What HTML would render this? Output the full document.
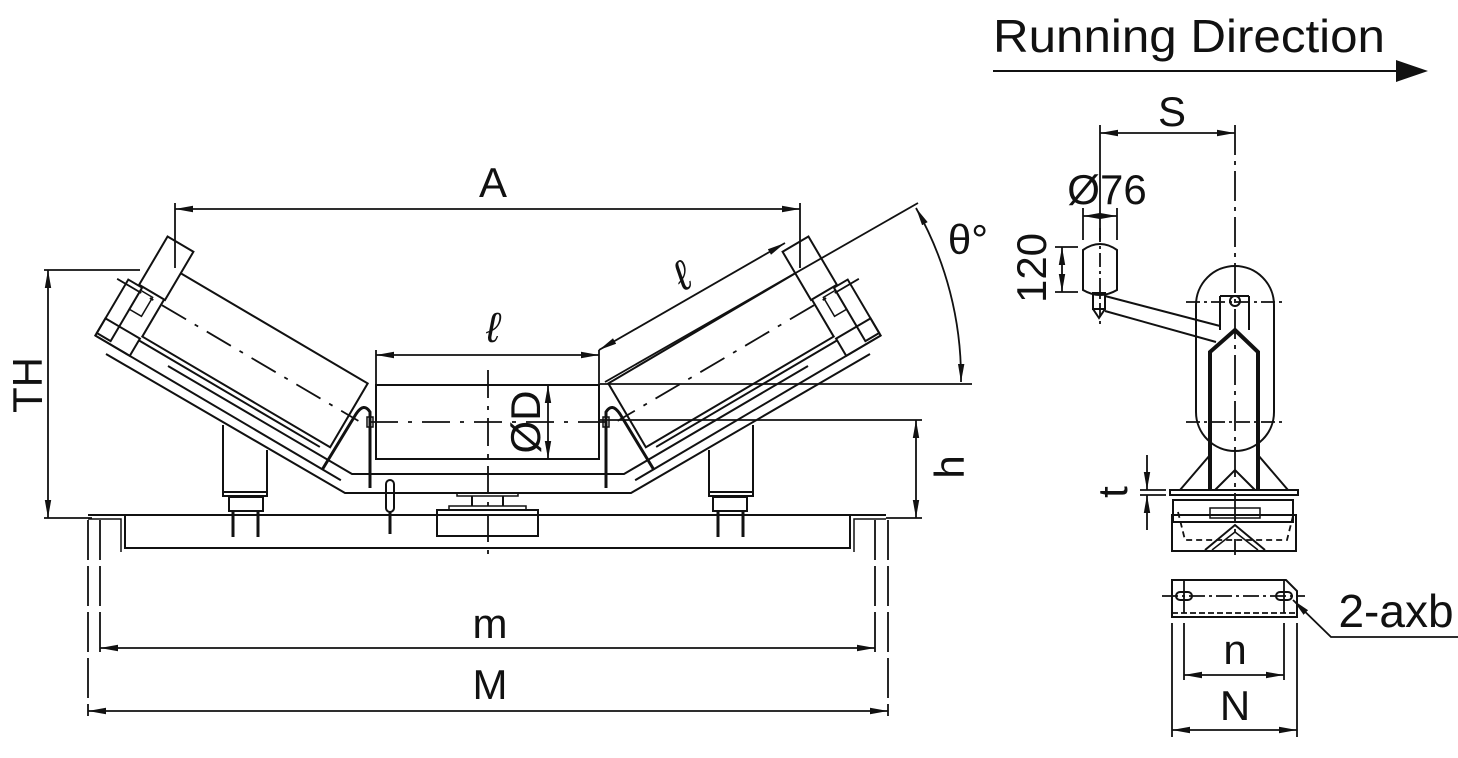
<!DOCTYPE html>
<html><head><meta charset="utf-8"><style>
html,body{margin:0;padding:0;background:#fff;}
svg{display:block;}
text{font-family:"Liberation Sans",sans-serif;fill:#111;}
</style></head><body>
<svg width="1458" height="758" viewBox="0 0 1458 758" xmlns="http://www.w3.org/2000/svg">
<defs>
<marker id="ar" viewBox="0 0 10 10" refX="10" refY="5" markerWidth="18" markerHeight="8" markerUnits="userSpaceOnUse" orient="auto-start-reverse" preserveAspectRatio="none"><path d="M0,1 L10,5 L0,9 z" fill="#111"/></marker>
<g id="side">
  <g transform="translate(255,360) rotate(30.5)">
    <rect x="-109" y="-37" width="218" height="74" fill="none" stroke="#111" stroke-width="2"/>
    <rect x="-138" y="-62" width="30" height="56" fill="#fff" stroke="#111" stroke-width="2"/>
    <rect x="-150" y="-5" width="16" height="62" fill="none" stroke="#111" stroke-width="2"/>
    <rect x="-134" y="-2" width="14" height="22" fill="none" stroke="#111" stroke-width="1.5"/>
    <rect x="-150" y="40" width="40" height="20" fill="none" stroke="#111" stroke-width="2"/>
    <line x1="-150" y1="60" x2="135" y2="60" stroke="#111" stroke-width="2"/>
    <line x1="-110" y1="42" x2="100" y2="42" stroke="#111" stroke-width="2"/>
    <line x1="-160" y1="0" x2="120" y2="0" stroke="#111" stroke-width="1.8" stroke-dasharray="28,10,4,10"/>
  </g>
  <path d="M106,354 L345,493 L488,493" fill="none" stroke="#111" stroke-width="2"/>
  <path d="M168,366 L352,474 L488,474" fill="none" stroke="#111" stroke-width="2"/>
  <path d="M322,470 L356,414 Q364,402 370,412 L370,488" fill="none" stroke="#111" stroke-width="3"/>
  <rect x="367" y="417" width="6" height="10" fill="none" stroke="#111" stroke-width="1.5"/>
  <path d="M223,425 L223,496 L267,496 L267,450" fill="none" stroke="#111" stroke-width="2"/>
  <line x1="223" y1="492" x2="267" y2="492" stroke="#111" stroke-width="2"/>
  <rect x="229" y="497" width="34" height="14" fill="none" stroke="#111" stroke-width="2"/>
  <line x1="233" y1="511" x2="233" y2="537" stroke="#111" stroke-width="3"/>
  <line x1="258" y1="511" x2="258" y2="537" stroke="#111" stroke-width="3"/>
</g>
</defs>

<use href="#side"/>
<use href="#side" transform="translate(976,0) scale(-1,1)"/>
<rect x="386" y="480" width="8" height="32" rx="4" fill="none" stroke="#111" stroke-width="2"/>
<line x1="390" y1="512" x2="390" y2="534" stroke="#111" stroke-width="3"/>

<rect x="376" y="385" width="223" height="74" fill="none" stroke="#111" stroke-width="2"/>
<line x1="370" y1="422" x2="610" y2="422" stroke="#111" stroke-width="1.8" stroke-dasharray="28,10,4,10"/>
<line x1="488" y1="370" x2="488" y2="556" stroke="#111" stroke-width="1.8" stroke-dasharray="28,8,4,8"/>
<rect x="457" y="493" width="61" height="3" fill="none" stroke="#111" stroke-width="1.5"/>
<line x1="472" y1="496" x2="472" y2="506" stroke="#111" stroke-width="2"/>
<line x1="503" y1="496" x2="503" y2="506" stroke="#111" stroke-width="2"/>
<rect x="449" y="506" width="77" height="4" fill="none" stroke="#111" stroke-width="1.5"/>
<rect x="437" y="510" width="101" height="26" fill="none" stroke="#111" stroke-width="2"/>
<path d="M88,515 L125,515 L125,548 L850,548 L850,515 L886,515" fill="none" stroke="#111" stroke-width="2"/>
<line x1="125" y1="515" x2="850" y2="515" stroke="#111" stroke-width="2"/>
<path d="M88,519 L121,519 L121,552" fill="none" stroke="#111" stroke-width="1.5"/>
<path d="M886,519 L854,519 L854,552" fill="none" stroke="#111" stroke-width="1.5"/>

<g stroke="#111" stroke-width="1.8" fill="none">
<line x1="175" y1="203" x2="175" y2="268"/>
<line x1="800" y1="203" x2="800" y2="268"/>
<line x1="175" y1="209" x2="800" y2="209" marker-start="url(#ar)" marker-end="url(#ar)"/>
<line x1="44" y1="270" x2="140" y2="270"/>
<line x1="44" y1="518" x2="92" y2="518"/>
<line x1="48" y1="270" x2="48" y2="518" marker-start="url(#ar)" marker-end="url(#ar)"/>
<line x1="600" y1="420" x2="922" y2="420"/>
<line x1="886" y1="518" x2="922" y2="518"/>
<line x1="916" y1="420" x2="916" y2="518" marker-start="url(#ar)" marker-end="url(#ar)"/>
<line x1="376" y1="350" x2="376" y2="385"/>
<line x1="599" y1="350" x2="599" y2="385"/>
<line x1="376" y1="355" x2="599" y2="355" marker-start="url(#ar)" marker-end="url(#ar)"/>
<line x1="548" y1="385" x2="548" y2="459" marker-start="url(#ar)" marker-end="url(#ar)"/>
<line x1="599" y1="350" x2="785" y2="243" marker-start="url(#ar)" marker-end="url(#ar)"/>
<line x1="600" y1="384" x2="972" y2="384"/>
<line x1="605" y1="382" x2="918" y2="203"/>
<path d="M916,208 A345,345 0 0 1 961,382" marker-start="url(#ar)" marker-end="url(#ar)"/>
<line x1="100" y1="520" x2="100" y2="652" stroke-dasharray="40,6"/>
<line x1="875" y1="520" x2="875" y2="652" stroke-dasharray="40,6"/>
<line x1="100" y1="648" x2="875" y2="648" marker-start="url(#ar)" marker-end="url(#ar)"/>
<line x1="88" y1="520" x2="88" y2="716" stroke-dasharray="40,6"/>
<line x1="888" y1="520" x2="888" y2="716" stroke-dasharray="40,6"/>
<line x1="88" y1="711" x2="888" y2="711" marker-start="url(#ar)" marker-end="url(#ar)"/>
</g>
<text x="493" y="197" font-size="42" text-anchor="middle">A</text>
<text x="493" y="342" font-size="42" text-anchor="middle" font-style="italic">ℓ</text>
<text x="683" y="290" font-size="42" text-anchor="middle" font-style="italic" transform="rotate(-30 683 278)">ℓ</text>
<text x="968" y="254" font-size="42" text-anchor="middle">θ°</text>
<text transform="translate(42,385) rotate(-90)" font-size="42" text-anchor="middle">TH</text>
<text transform="translate(964,467) rotate(-90)" font-size="42" text-anchor="middle">h</text>
<text transform="translate(540,422) rotate(-90)" font-size="42" text-anchor="middle">ØD</text>
<text x="490" y="638" font-size="42" text-anchor="middle">m</text>
<text x="490" y="699" font-size="42" text-anchor="middle">M</text>

<text x="993" y="52" font-size="46" textLength="392" lengthAdjust="spacingAndGlyphs">Running Direction</text>
<line x1="993" y1="71" x2="1400" y2="71" stroke="#111" stroke-width="2"/>
<path d="M1396,60 L1428,71 L1396,82 z" fill="#111"/>

<g stroke="#111" stroke-width="1.8" fill="none">
<line x1="1100" y1="125" x2="1100" y2="240"/>
<line x1="1235" y1="125" x2="1235" y2="555" stroke-dasharray="30,6,4,6"/>
<line x1="1100" y1="133" x2="1235" y2="133" marker-start="url(#ar)" marker-end="url(#ar)"/>
<line x1="1083" y1="208" x2="1083" y2="240"/>
<line x1="1117" y1="208" x2="1117" y2="240"/>
<line x1="1083" y1="216" x2="1117" y2="216" marker-start="url(#ar)" marker-end="url(#ar)"/>
<line x1="1055" y1="247" x2="1078" y2="247"/>
<line x1="1055" y1="292" x2="1078" y2="292"/>
<line x1="1062" y1="247" x2="1062" y2="292" marker-start="url(#ar)" marker-end="url(#ar)"/>
<path d="M1083,250 Q1100,238 1117,250 L1117,290 Q1100,300 1083,290 Z" stroke-width="2"/>
<rect x="1093" y="293" width="12" height="16" stroke-width="2"/>
<path d="M1093,309 L1099,318 L1105,309" stroke-width="2"/>
<line x1="1100" y1="228" x2="1100" y2="327" stroke-dasharray="14,4,3,4"/>
<line x1="1105" y1="296" x2="1220" y2="326" stroke-width="2"/>
<line x1="1105" y1="311" x2="1216" y2="342" stroke-width="2"/>
<path d="M1196,305 A39,39 0 0 1 1274,305 L1274,412 A39,39 0 0 1 1196,412 Z" stroke-width="2"/>
<line x1="1186" y1="302" x2="1284" y2="302" stroke-dasharray="14,4,3,4"/>
<line x1="1186" y1="422" x2="1284" y2="422" stroke-dasharray="14,4,3,4"/>
<circle cx="1235" cy="301" r="5" stroke-width="2"/>
<path d="M1220,296 L1220,330 M1249,296 L1249,330 M1220,296 L1249,296" stroke-width="2"/>
<path d="M1210,490 L1210,352 L1235,330 L1258,352 L1258,490" stroke-width="4"/>
<path d="M1215,490 L1235,470 L1255,490" stroke-width="2"/>
<path d="M1180,490 L1210,455 M1288,490 L1258,455" stroke-width="2"/>
<rect x="1170" y="490" width="128" height="5" stroke-width="2"/>
<rect x="1173" y="500" width="120" height="22" stroke-width="2"/>
<rect x="1172" y="515" width="124" height="36" stroke-width="2"/>
<path d="M1178,512 L1185,540 L1287,540 L1294,512" stroke-dasharray="6,4"/>
<path d="M1205,550 L1235,525 L1265,550" stroke-width="2"/>
<path d="M1212,550 L1235,532 L1258,550" stroke-width="1.5"/>
<rect x="1210" y="508" width="50" height="10" stroke-width="1.5"/>
<line x1="1140" y1="490" x2="1166" y2="490"/>
<line x1="1140" y1="495" x2="1166" y2="495"/>
<line x1="1147" y1="455" x2="1147" y2="490" marker-end="url(#ar)"/>
<line x1="1147" y1="530" x2="1147" y2="495" marker-end="url(#ar)"/>
<path d="M1172,580 L1286,580 L1297,591 L1297,617 L1172,617 Z" stroke-width="2"/>
<line x1="1172" y1="613" x2="1297" y2="613" stroke-dasharray="6,3"/>
<line x1="1162" y1="596" x2="1305" y2="596" stroke-dasharray="16,4,3,4"/>
<line x1="1184" y1="580" x2="1184" y2="613"/>
<line x1="1284" y1="580" x2="1284" y2="613"/>
<rect x="1176" y="592" width="16" height="8" rx="4" stroke-width="2"/>
<rect x="1276" y="592" width="16" height="8" rx="4" stroke-width="2"/>
<path d="M1458,637 L1331,637 L1293,600" marker-end="url(#ar)"/>
<line x1="1184" y1="623" x2="1184" y2="680"/>
<line x1="1284" y1="623" x2="1284" y2="680"/>
<line x1="1184" y1="675" x2="1284" y2="675" marker-start="url(#ar)" marker-end="url(#ar)"/>
<line x1="1172" y1="623" x2="1172" y2="737"/>
<line x1="1297" y1="623" x2="1297" y2="737"/>
<line x1="1172" y1="730" x2="1297" y2="730" marker-start="url(#ar)" marker-end="url(#ar)"/>
</g>
<text x="1172" y="126" font-size="42" text-anchor="middle">S</text>
<text x="1107" y="204" font-size="42" text-anchor="middle">Ø76</text>
<text transform="translate(1046,268) rotate(-90)" font-size="42" text-anchor="middle">120</text>
<text transform="translate(1127,492) rotate(-90)" font-size="42" text-anchor="middle">t</text>
<text x="1396" y="627" font-size="46" text-anchor="middle">2-axb</text>
<text x="1235" y="664" font-size="42" text-anchor="middle">n</text>
<text x="1235" y="720" font-size="42" text-anchor="middle">N</text>
</svg>
</body></html>
